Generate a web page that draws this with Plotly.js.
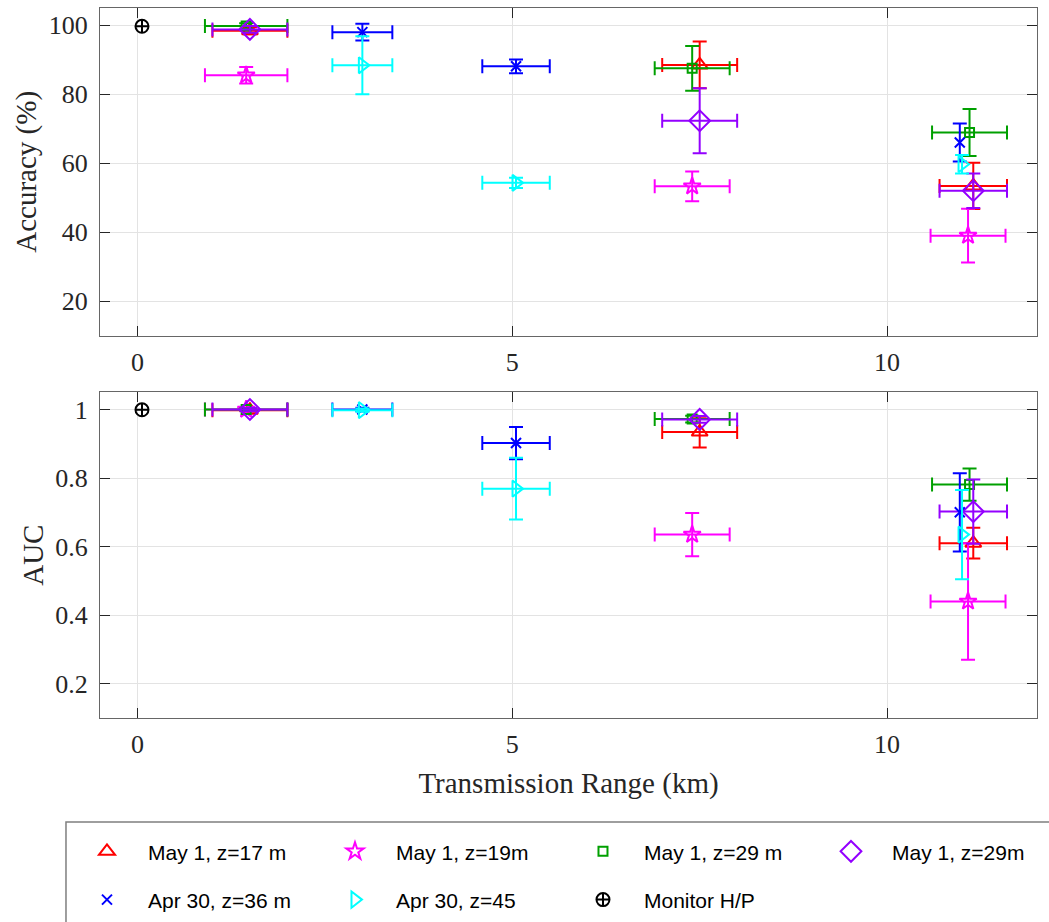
<!DOCTYPE html>
<html>
<head>
<meta charset="utf-8">
<script src="https://cdn.plot.ly/plotly-3.0.1.min.js"></script>
<style>html,body{margin:0;padding:0;background:#fff;}#chart{width:1049px;height:922px;}</style>
</head>
<body>
<div id="chart"></div>
<script>
// ---- data ----
var seriesNames = ["May 1, z=17 m", "May 1, z=19m", "May 1, z=29 m", "May 1, z=29m", "Apr 30, z=36 m", "Apr 30, z=45", "Monitor H/P"];

var redX      = [1.5, 7.5, 11.15];
var redXErr   = [0.5, 0.5, 0.45];
var redAcc    = [98.4, 88.5, 53.4];
var redAccErr = [1.0, 6.8, 6.7];
var redAuc    = [0.998, 0.934, 0.61];
var redAucErr = [0.005, 0.045, 0.045];

var magX      = [1.45, 7.4, 11.08];
var magXErr   = [0.55, 0.5, 0.5];
var magAcc    = [85.5, 53.3, 39.0];
var magAccErr = [2.4, 4.3, 7.8];
var magAuc    = [1.0, 0.635, 0.44];
var magAucErr = [0.005, 0.063, 0.17];

var grnX      = [1.45, 7.4, 11.1];
var grnXErr   = [0.55, 0.5, 0.5];
var grnAcc    = [99.8, 87.5, 68.9];
var grnAccErr = [0.8, 6.5, 6.8];
var grnAuc    = [1.0, 0.972, 0.781];
var grnAucErr = [0.003, 0.01, 0.047];

var purX      = [1.5, 7.5, 11.15];
var purXErr   = [0.5, 0.5, 0.45];
var purAcc    = [98.8, 72.3, 52.0];
var purAccErr = [1.0, 9.4, 5.0];
var purAuc    = [1.0, 0.971, 0.702];
var purAucErr = [0.005, 0.01, 0.094];

var bluX      = [3.0, 5.05, 10.97];
var bluXErr   = [0.4, 0.45, NaN];
var bluAcc    = [98.0, 88.1, 66.0];
var bluAccErr = [2.4, 2.0, 5.5];
var bluAuc    = [1.0, 0.902, 0.70];
var bluAucErr = [0.005, 0.047, 0.114];

var cyaX      = [3.0, 5.05, 11.0];
var cyaXErr   = [0.4, 0.45, NaN];
var cyaAcc    = [88.4, 54.3, 59.7];
var cyaAccErr = [8.4, 1.5, 2.7];
var cyaAuc    = [0.998, 0.769, 0.635];
var cyaAucErr = [0.005, 0.09, 0.13];

var monX   = [0.06];
var monAcc = [99.7];
var monAuc = [0.999];

var xTicks = [0, 5, 10];
var accTicks = [20, 40, 60, 80, 100];
var aucTicks = [0.2, 0.4, 0.6, 0.8, 1];

// ---- styles ----
var styles = [
  {color: "#ff0000", symbol: "triangle-up-open", size: 14, legend: "legend"},
  {color: "#ff00ff", symbol: "star-open", size: 13, legend: "legend"},
  {color: "#00a000", symbol: "square-open", size: 9, legend: "legend"},
  {color: "#9400ff", symbol: "diamond-open", size: 16, legend: "legend"},
  {color: "#0000ff", symbol: "x-thin-open", size: 10, legend: "legend2"},
  {color: "#00ffff", symbol: "triangle-right-open", size: 14, legend: "legend2"},
  {color: "#000000", symbol: "circle-cross-open", size: 13, legend: "legend2"}
];

var seriesData = [
  [redX, redXErr, redAcc, redAccErr, redAuc, redAucErr],
  [magX, magXErr, magAcc, magAccErr, magAuc, magAucErr],
  [grnX, grnXErr, grnAcc, grnAccErr, grnAuc, grnAucErr],
  [purX, purXErr, purAcc, purAccErr, purAuc, purAucErr],
  [bluX, bluXErr, bluAcc, bluAccErr, bluAuc, bluAucErr],
  [cyaX, cyaXErr, cyaAcc, cyaAccErr, cyaAuc, cyaAucErr],
  [monX, null, monAcc, null, monAuc, null]
];

var traces = [];
seriesData.forEach(function(s, i) {
  var st = styles[i];
  var mk = {color: st.color, symbol: st.symbol, size: st.size, line: {color: st.color, width: 2}};
  function errObj(arr) {
    if (!arr) return {visible: false};
    return {type: "data", array: arr, visible: true, color: st.color, thickness: 2, width: 7};
  }
  traces.push({
    type: "scatter", mode: "markers", name: seriesNames[i],
    x: s[0], y: s[2], xaxis: "x", yaxis: "y",
    marker: mk, error_x: errObj(s[1]), error_y: errObj(s[3]),
    legend: st.legend, showlegend: true, hoverinfo: "x+y"
  });
  traces.push({
    type: "scatter", mode: "markers", name: seriesNames[i],
    x: s[0], y: s[4], xaxis: "x2", yaxis: "y2",
    marker: mk, error_x: errObj(s[1]), error_y: errObj(s[5]),
    showlegend: false, hoverinfo: "x+y"
  });
});

var serif = "Liberation Serif, Times New Roman, serif";
var axisCommon = {
  showline: true, linecolor: "#666666", linewidth: 1, mirror: "ticks",
  ticks: "inside", ticklen: 10, tickcolor: "#262626", tickwidth: 1,
  showgrid: true, gridcolor: "#e3e3e3", gridwidth: 1, zeroline: false,
  tickfont: {family: serif, size: 26, color: "#262626"}
};

function ax(extra) { return Object.assign({}, axisCommon, extra); }

var legendFont = {family: "Liberation Sans, Arial, sans-serif", size: 21, color: "#000"};

var layout = {
  width: 1049, height: 922,
  paper_bgcolor: "#ffffff", plot_bgcolor: "#ffffff",
  margin: {l: 100, r: 12, t: 8, b: 204, autoexpand: false},
  showlegend: true,
  xaxis: ax({domain: [0, 1], anchor: "y", range: [-0.5, 12], tickmode: "array", tickvals: xTicks, ticklabelstandoff: 3}),
  yaxis: ax({domain: [0.5385, 1], anchor: "x", range: [10, 105], tickmode: "array", tickvals: accTicks, ticklabelstandoff: 6,
    title: {text: "Accuracy (%)", font: {family: serif, size: 29, color: "#262626"}, standoff: 3}}),
  xaxis2: ax({domain: [0, 1], anchor: "y2", range: [-0.5, 12], tickmode: "array", tickvals: xTicks, ticklabelstandoff: 3,
    title: {text: "Transmission Range (km)", font: {family: serif, size: 29, color: "#262626"}, standoff: 14}}),
  yaxis2: ax({domain: [0, 0.4587], anchor: "x2", range: [0.1, 1.05], tickmode: "array", tickvals: aucTicks, ticklabelstandoff: 6,
    title: {text: "AUC", font: {family: serif, size: 29, color: "#262626"}, standoff: 3}}),
  legend: {
    orientation: "h", x: -0.0363, xanchor: "left", y: -0.1594, yanchor: "top",
    xref: "paper", yref: "paper",
    entrywidth: 161, entrywidthmode: "pixels", itemwidth: 72,
    font: legendFont,
    bgcolor: "rgba(0,0,0,0)", borderwidth: 0, itemclick: false, itemdoubleclick: false
  },
  legend2: {
    orientation: "h", x: -0.0363, xanchor: "left", y: -0.2274, yanchor: "top",
    xref: "paper", yref: "paper",
    entrywidth: 161, entrywidthmode: "pixels", itemwidth: 72,
    font: legendFont,
    bgcolor: "rgba(0,0,0,0)", borderwidth: 0, itemclick: false, itemdoubleclick: false
  },
  shapes: [{
    type: "rect", xref: "paper", yref: "paper",
    x0: -0.0363, x1: 1.03, y0: -0.32, y1: -0.1465,
    line: {color: "#7f7f7f", width: 1.5}, fillcolor: "rgba(0,0,0,0)", layer: "below"
  }]
};

Plotly.newPlot("chart", traces, layout, {staticPlot: true, displayModeBar: false});
</script>
</body>
</html>
